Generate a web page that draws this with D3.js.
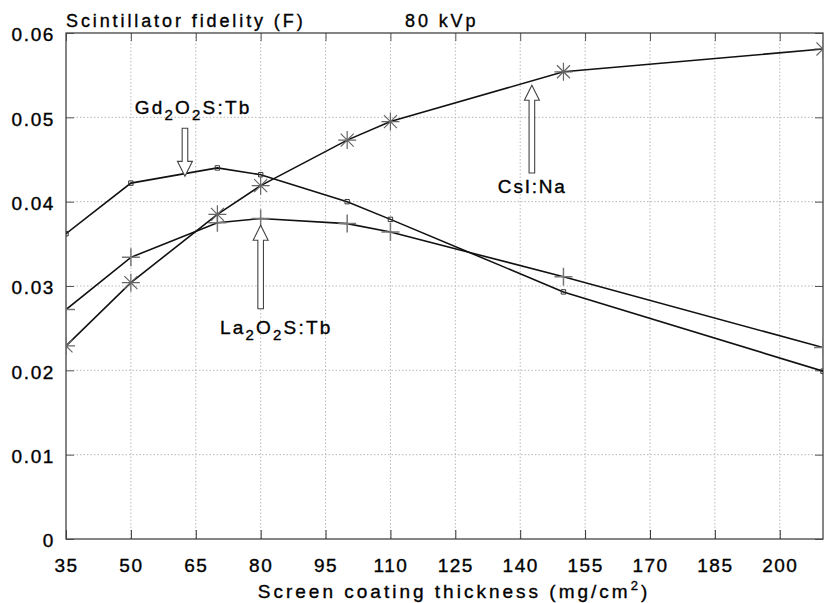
<!DOCTYPE html>
<html><head><meta charset="utf-8">
<script src="https://cdn.jsdelivr.net/npm/d3@7"></script>
<style>
body{margin:0;background:#fff}
text{font-family:"Liberation Sans",Arial,Helvetica,sans-serif;fill:#000;stroke:#000;stroke-width:0.35px}
</style></head>
<body><svg id="c" width="824" height="603"></svg>
<script>
const thickness = [35, 50, 70, 80, 100, 110, 150, 210];
const gdValues  = [0.0362, 0.0422, 0.0440, 0.0432, 0.0400, 0.0379, 0.0293, 0.0199];
const csiValues = [0.0229, 0.0304, 0.0385, 0.0419, 0.0473, 0.0495, 0.0554, 0.0581];
const laValues  = [0.0272, 0.0334, 0.0375, 0.0380, 0.0374, 0.0364, 0.0311, 0.0227];
const xTicks = [35, 50, 65, 80, 95, 110, 125, 140, 155, 170, 185, 200];
const yTicks = [0, 0.01, 0.02, 0.03, 0.04, 0.05, 0.06];
const yTickLabels = ["0", "0.01", "0.02", "0.03", "0.04", "0.05", "0.06"];

const svg = d3.select("#c");
const L = 66, R = 823, T = 33, B = 539;
const x = d3.scaleLinear().domain([35, 210]).range([L, R]);
const y = d3.scaleLinear().domain([0, 0.06]).range([B, T]);

// grid
const g = svg.append("g");
g.selectAll(".vg").data(xTicks.slice(1)).join("line")
  .attr("x1", d => x(d)).attr("x2", d => x(d)).attr("y1", T).attr("y2", B)
  .attr("stroke", "#b8b8b8").attr("stroke-width", 1).attr("stroke-dasharray", "1.5,2");
g.selectAll(".hg").data(yTicks.slice(1, -1)).join("line")
  .attr("y1", d => y(d)).attr("y2", d => y(d)).attr("x1", L).attr("x2", R)
  .attr("stroke", "#b8b8b8").attr("stroke-width", 1).attr("stroke-dasharray", "1.5,2");

// axes with inner ticks
const fs = 19;
const xAxis = svg.append("g").attr("transform", `translate(0,${B})`)
  .call(d3.axisBottom(x).tickValues(xTicks).tickSizeInner(-9).tickSizeOuter(0).tickPadding(20));
xAxis.select(".domain").remove();
xAxis.selectAll("line").attr("stroke", "#333");
xAxis.selectAll("text").style("font-size", fs + "px").style("letter-spacing", "1.5px")
  .attr("font-family", null).attr("fill", "#000");
const xTop = svg.append("g").attr("transform", `translate(0,${T})`)
  .call(d3.axisTop(x).tickValues(xTicks).tickSizeInner(-8).tickSizeOuter(0).tickFormat(""));
xTop.select(".domain").remove();
xTop.selectAll("line").attr("stroke", "#555");

const yAxis = svg.append("g").attr("transform", `translate(${L},0)`)
  .call(d3.axisLeft(y).tickValues(yTicks).tickSizeInner(-8).tickSizeOuter(0).tickPadding(11)
    .tickFormat((d, i) => yTickLabels[i]));
yAxis.select(".domain").remove();
yAxis.selectAll("line").attr("stroke", "#555");
yAxis.selectAll("text").style("font-size", fs + "px").style("letter-spacing", "1.6px")
  .attr("font-family", null).attr("fill", "#000").attr("dy", "0.42em");
const yRight = svg.append("g").attr("transform", `translate(${R},0)`)
  .call(d3.axisRight(y).tickValues(yTicks).tickSizeInner(-8).tickSizeOuter(0).tickFormat(""));
yRight.select(".domain").remove();
yRight.selectAll("line").attr("stroke", "#555");

// frame
svg.append("rect").attr("x", L).attr("y", T).attr("width", R - L).attr("height", B - T)
  .attr("fill", "none").attr("stroke", "#444").attr("stroke-width", 1.3);

// clip
svg.append("clipPath").attr("id", "clip").append("rect")
  .attr("x", L).attr("y", T).attr("width", R - L).attr("height", B - T);
const plot = svg.append("g").attr("clip-path", "url(#clip)");

const line = d3.line().x(d => x(d[0])).y(d => y(d[1]));
const series = [
  {vals: gdValues, marker: "M-2.2,-2.2H2.2V2.2H-2.2Z", mcolor: "#333", mw: 1},
  {vals: laValues, marker: "M-9,0H9M0,-9V9", mcolor: "#777", mw: 1.5},
  {vals: csiValues, marker: "M-9,0H9M0,-9V9M-6.5,-6.5L6.5,6.5M-6.5,6.5L6.5,-6.5", mcolor: "#666", mw: 1.2}
];
series.forEach(s => {
  const pts = thickness.map((t, i) => [t, s.vals[i]]);
  plot.append("path").attr("d", line(pts)).attr("fill", "none")
    .attr("stroke", "#111").attr("stroke-width", 1.6);
  plot.selectAll(null).data(pts).join("path")
    .attr("transform", d => `translate(${x(d[0])},${y(d[1])})`)
    .attr("d", s.marker).attr("fill", "none").attr("stroke", s.mcolor).attr("stroke-width", s.mw);
});

// hollow block arrows (annotation)
function arrow(xv, yTail, yTip) {
  const cx = x(xv), t0 = y(yTail), t1 = y(yTip);
  const dir = t1 > t0 ? 1 : -1;
  const hh = 15, hw = 7.5, sw = 2.8;
  const hb = t1 - dir * hh;
  const p = `M${cx - sw},${t0}L${cx - sw},${hb}L${cx - hw},${hb}L${cx},${t1}L${cx + hw},${hb}L${cx + sw},${hb}L${cx + sw},${t0}Z`;
  svg.append("path").attr("d", p).attr("fill", "#fff").attr("stroke", "#444").attr("stroke-width", 1.1);
}
arrow(62.5, 0.0487, 0.0430);
arrow(80, 0.0273, 0.0372);
arrow(142.7, 0.0434, 0.0538);

function chemLabel(xv, yv, parts) {
  const t = svg.append("text").attr("x", x(xv)).attr("y", y(yv)).attr("text-anchor", "middle")
    .style("font-size", "19px").style("letter-spacing", "2.2px");
  parts.forEach(p => {
    if (p.sub) t.append("tspan").text(p.s).style("font-size", "15px").attr("dy", 6);
    else t.append("tspan").text(p.s).attr("dy", p.after ? -6 : 0);
  });
}
chemLabel(64.4, 0.0504, [{s: "Gd"}, {s: "2", sub: 1}, {s: "O", after: 1}, {s: "2", sub: 1}, {s: "S:Tb", after: 1}]);
chemLabel(83.6, 0.0243, [{s: "La"}, {s: "2", sub: 1}, {s: "O", after: 1}, {s: "2", sub: 1}, {s: "S:Tb", after: 1}]);
svg.append("text").attr("x", x(142.8)).attr("y", y(0.0410)).attr("text-anchor", "middle")
  .style("font-size", "19px").style("letter-spacing", "1.8px").text("CsI:Na");

// titles
svg.append("text").attr("x", 66).attr("y", 27).style("font-size", "18px").style("letter-spacing", "2.9px")
  .text("Scintillator fidelity (F)");
svg.append("text").attr("x", 405).attr("y", 27).style("font-size", "18px").style("letter-spacing", "2.9px")
  .text("80 kVp");
const xt = svg.append("text").attr("x", 454).attr("y", 598).attr("text-anchor", "middle")
  .style("font-size", "19px").style("letter-spacing", "3px");
xt.append("tspan").text("Screen coating thickness (mg/cm");
xt.append("tspan").text("2").style("font-size", "13px").attr("dy", -8);
xt.append("tspan").text(")").attr("dy", 8);
</script></body></html>
